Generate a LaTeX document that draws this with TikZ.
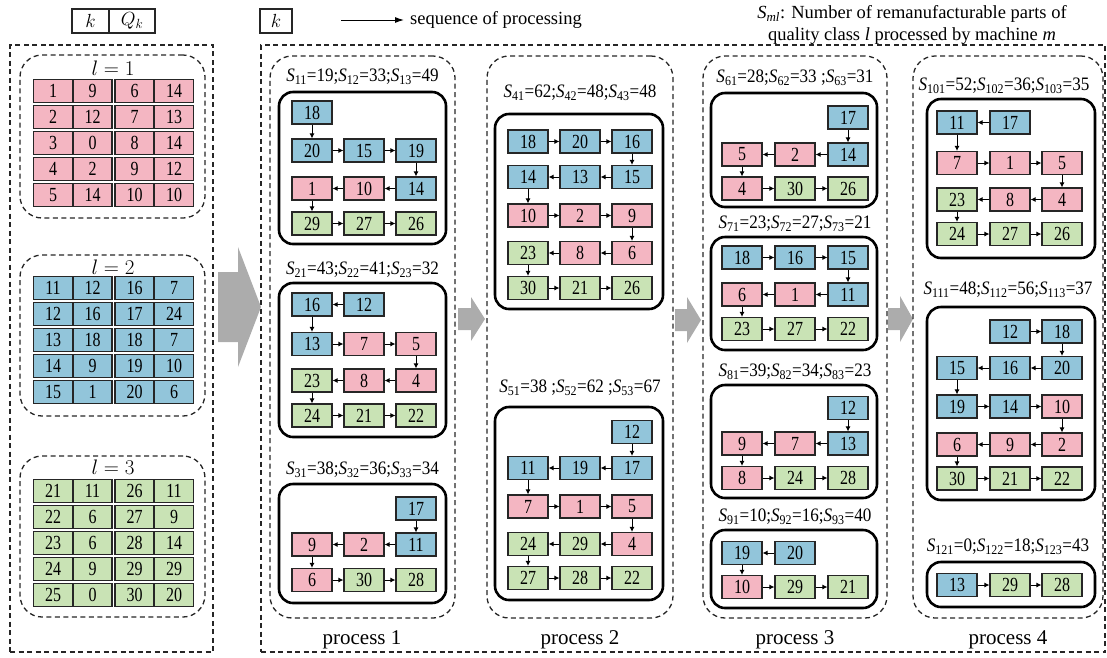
\RequirePackage{fix-cm}
\documentclass[tikz,border=0pt]{standalone}
\usepackage{fontspec}
\setmainfont{Liberation Serif}
\newfontfamily\numfont[FakeStretch=0.8]{Liberation Serif}
\newfontfamily\labfont[FakeStretch=0.9]{Liberation Serif}
\usepackage{xcolor}
\usepackage{tikz}
\usetikzlibrary{arrows.meta, fit}

\definecolor{pinkc}{HTML}{F4B6C2}
\definecolor{bluec}{HTML}{92C5DA}
\definecolor{greenc}{HTML}{C9E3B5}

\begin{document}
\begin{tikzpicture}[
    x=1pt, y=-1pt,
    partnode/.style={rectangle, draw=black!85, line width=1.1pt, minimum width=40pt, minimum height=23pt, inner sep=0pt, font=\numfont\fontsize{20}{20}\selectfont},
    pnode/.style={partnode, fill=pinkc},
    bnode/.style={partnode, fill=bluec},
    gnode/.style={partnode, fill=greenc},
    cell/.style={minimum width=39pt, minimum height=22.5pt},
    keynode/.style={rectangle, draw=black!85, line width=1.1pt, minimum height=24pt, inner sep=0pt, font=\fontsize{19}{19}\selectfont},
    machine/.style={draw=black, line width=2.6pt, rounded corners=14pt, inner sep=0pt},
    group/.style={draw=black!85, dash pattern=on 5pt off 3.5pt, line width=1.3pt, rounded corners=22pt, inner sep=0pt},
    frame/.style={draw=black!85, dash pattern=on 5pt off 3.5pt, line width=1.3pt, inner sep=0pt},
    slabel/.style={inner sep=0pt, font=\labfont\fontsize{19}{19}\selectfont},
    plabel/.style={inner sep=0pt, font=\fontsize{21}{21}\selectfont},
    clabel/.style={inner sep=0pt, font=\fontsize{21}{21}\selectfont},
    arr/.style={-{Latex[length=5pt, width=5pt]}, line width=1pt, black},
    bigarr/.style={fill=gray!65}
]
\useasboundingbox (0,0) rectangle (1107,657);

% legend
\node[keynode, minimum width=37pt] (key_k) at (90.5,21) {$k$};
\node[keynode, minimum width=46pt] (key_q) at (132,21) {$Q_k$};
\node[keynode, minimum width=32pt] (key_m) at (276,21) {$k$};
\coordinate (seq_a) at (341,20);
\node[anchor=west, inner sep=0pt, font=\fontsize{18.5}{18.5}\selectfont] (seq_txt) at (410,20) {sequence of processing};
\draw[-{Latex[length=9pt, width=6pt]}, line width=1pt] (seq_a) -- ([xshift=-6pt]seq_txt.west);
\node[align=center, inner sep=0pt, font=\fontsize{18.5}{22}\selectfont] (legend_s) at (912,25) {{\itshape S}\textsubscript{\itshape ml}: Number of remanufacturable parts of\\quality class {\itshape l} processed by machine {\itshape m}};

% outer frames
\node[frame, fit={(10,45) (213,652)}] (input_box) {};
\node[frame, fit={(261,45) (1105,652)}] (sched_box) {};

% quality classes
\node[group, fit={(20,55) (205,218)}] (class1) {};
\node[group, fit={(20,255) (205,416)}] (class2) {};
\node[group, fit={(20,456) (205,617)}] (class3) {};
\node[clabel] (class1_lbl) at (113,68) {$l=1$};
\node[clabel] (class2_lbl) at (113,267) {$l=2$};
\node[clabel] (class3_lbl) at (113,467) {$l=3$};

\node[pnode, cell] (k_1) at (53,91) {1};
\node[pnode, cell] (q_1) at (92.5,91) {9};
\node[pnode, cell] (k_6) at (134.5,91) {6};
\node[pnode, cell] (q_6) at (174,91) {14};
\node[pnode, cell] (k_2) at (53,117) {2};
\node[pnode, cell] (q_2) at (92.5,117) {12};
\node[pnode, cell] (k_7) at (134.5,117) {7};
\node[pnode, cell] (q_7) at (174,117) {13};
\node[pnode, cell] (k_3) at (53,143) {3};
\node[pnode, cell] (q_3) at (92.5,143) {0};
\node[pnode, cell] (k_8) at (134.5,143) {8};
\node[pnode, cell] (q_8) at (174,143) {14};
\node[pnode, cell] (k_4) at (53,169) {4};
\node[pnode, cell] (q_4) at (92.5,169) {2};
\node[pnode, cell] (k_9) at (134.5,169) {9};
\node[pnode, cell] (q_9) at (174,169) {12};
\node[pnode, cell] (k_5) at (53,195) {5};
\node[pnode, cell] (q_5) at (92.5,195) {14};
\node[pnode, cell] (k_10) at (134.5,195) {10};
\node[pnode, cell] (q_10) at (174,195) {10};

\node[bnode, cell] (k_11) at (53,288) {11};
\node[bnode, cell] (q_11) at (92.5,288) {12};
\node[bnode, cell] (k_16) at (134.5,288) {16};
\node[bnode, cell] (q_16) at (174,288) {7};
\node[bnode, cell] (k_12) at (53,314) {12};
\node[bnode, cell] (q_12) at (92.5,314) {16};
\node[bnode, cell] (k_17) at (134.5,314) {17};
\node[bnode, cell] (q_17) at (174,314) {24};
\node[bnode, cell] (k_13) at (53,340) {13};
\node[bnode, cell] (q_13) at (92.5,340) {18};
\node[bnode, cell] (k_18) at (134.5,340) {18};
\node[bnode, cell] (q_18) at (174,340) {7};
\node[bnode, cell] (k_14) at (53,366) {14};
\node[bnode, cell] (q_14) at (92.5,366) {9};
\node[bnode, cell] (k_19) at (134.5,366) {19};
\node[bnode, cell] (q_19) at (174,366) {10};
\node[bnode, cell] (k_15) at (53,392) {15};
\node[bnode, cell] (q_15) at (92.5,392) {1};
\node[bnode, cell] (k_20) at (134.5,392) {20};
\node[bnode, cell] (q_20) at (174,392) {6};

\node[gnode, cell] (k_21) at (53,491) {21};
\node[gnode, cell] (q_21) at (92.5,491) {11};
\node[gnode, cell] (k_26) at (134.5,491) {26};
\node[gnode, cell] (q_26) at (174,491) {11};
\node[gnode, cell] (k_22) at (53,517) {22};
\node[gnode, cell] (q_22) at (92.5,517) {6};
\node[gnode, cell] (k_27) at (134.5,517) {27};
\node[gnode, cell] (q_27) at (174,517) {9};
\node[gnode, cell] (k_23) at (53,543) {23};
\node[gnode, cell] (q_23) at (92.5,543) {6};
\node[gnode, cell] (k_28) at (134.5,543) {28};
\node[gnode, cell] (q_28) at (174,543) {14};
\node[gnode, cell] (k_24) at (53,569) {24};
\node[gnode, cell] (q_24) at (92.5,569) {9};
\node[gnode, cell] (k_29) at (134.5,569) {29};
\node[gnode, cell] (q_29) at (174,569) {29};
\node[gnode, cell] (k_25) at (53,595) {25};
\node[gnode, cell] (q_25) at (92.5,595) {0};
\node[gnode, cell] (k_30) at (134.5,595) {30};
\node[gnode, cell] (q_30) at (174,595) {20};

% big arrows
\fill[bigarr] (218,272) -- (238,272) -- (238,247) -- (261,307) -- (238,367) -- (238,342) -- (218,342) -- cycle;
\fill[bigarr] (458,308) -- (471,308) -- (471,297) -- (485,319) -- (471,341) -- (471,330) -- (458,330) -- cycle;
\fill[bigarr] (675,309) -- (687,309) -- (687,297) -- (701,320) -- (687,343) -- (687,331) -- (675,331) -- cycle;
\fill[bigarr] (888,308) -- (900,308) -- (900,296) -- (913,319) -- (900,342) -- (900,330) -- (888,330) -- cycle;

% processes
\node[group, fit={(270,56) (455,618)}] (proc1) {};
\node[group, fit={(487,56) (673,618)}] (proc2) {};
\node[group, fit={(703,56) (887,618)}] (proc3) {};
\node[group, fit={(913,56) (1103,618)}] (proc4) {};
\node[plabel] (proc1_lbl) at (362,640) {process 1};
\node[plabel] (proc2_lbl) at (580,640) {process 2};
\node[plabel] (proc3_lbl) at (795,640) {process 3};
\node[plabel] (proc4_lbl) at (1008,640) {process 4};

% machines
\node[machine, fit={(279,92) (446,244)}] (mach1) {};
\node[machine, fit={(279,283) (446,437)}] (mach2) {};
\node[machine, fit={(279,484) (446,603)}] (mach3) {};
\node[machine, fit={(495,114) (663,309)}] (mach4) {};
\node[machine, fit={(495,407) (663,600)}] (mach5) {};
\node[machine, fit={(711,93) (877,207)}] (mach6) {};
\node[machine, fit={(711,237) (877,350)}] (mach7) {};
\node[machine, fit={(711,385) (877,498)}] (mach8) {};
\node[machine, fit={(711,530) (877,608)}] (mach9) {};
\node[machine, fit={(927,99) (1095,258)}] (mach10) {};
\node[machine, fit={(927,307) (1095,500)}] (mach11) {};
\node[machine, fit={(927,562) (1095,607)}] (mach12) {};

\node[slabel] (s_1) at (362.5,77) {{\itshape S}\textsubscript{11}=19;{\itshape S}\textsubscript{12}=33;{\itshape S}\textsubscript{13}=49};
\node[slabel] (s_2) at (362.5,270) {{\itshape S}\textsubscript{21}=43;{\itshape S}\textsubscript{22}=41;{\itshape S}\textsubscript{23}=32};
\node[slabel] (s_3) at (362.5,470) {{\itshape S}\textsubscript{31}=38;{\itshape S}\textsubscript{32}=36;{\itshape S}\textsubscript{33}=34};
\node[slabel] (s_4) at (580,93) {{\itshape S}\textsubscript{41}=62;{\itshape S}\textsubscript{42}=48;{\itshape S}\textsubscript{43}=48};
\node[slabel] (s_5) at (580,388) {{\itshape S}\textsubscript{51}=38 ;{\itshape S}\textsubscript{52}=62 ;{\itshape S}\textsubscript{53}=67};
\node[slabel] (s_6) at (795,78) {{\itshape S}\textsubscript{61}=28;{\itshape S}\textsubscript{62}=33 ;{\itshape S}\textsubscript{63}=31};
\node[slabel] (s_7) at (795,224) {{\itshape S}\textsubscript{71}=23;{\itshape S}\textsubscript{72}=27;{\itshape S}\textsubscript{73}=21};
\node[slabel] (s_8) at (795,372) {{\itshape S}\textsubscript{81}=39;{\itshape S}\textsubscript{82}=34;{\itshape S}\textsubscript{83}=23};
\node[slabel] (s_9) at (795,517) {{\itshape S}\textsubscript{91}=10;{\itshape S}\textsubscript{92}=16;{\itshape S}\textsubscript{93}=40};
\node[slabel] (s_10) at (1004,86) {{\itshape S}\textsubscript{101}=52;{\itshape S}\textsubscript{102}=36;{\itshape S}\textsubscript{103}=35};
\node[slabel] (s_11) at (1008,290) {{\itshape S}\textsubscript{111}=48;{\itshape S}\textsubscript{112}=56;{\itshape S}\textsubscript{113}=37};
\node[slabel] (s_12) at (1008,547) {{\itshape S}\textsubscript{121}=0;{\itshape S}\textsubscript{122}=18;{\itshape S}\textsubscript{123}=43};

% machine 1
\node[bnode] (m1_18) at (312,112.5) {18};
\node[bnode] (m1_20) at (312,150.5) {20};
\node[bnode] (m1_15) at (364,150.5) {15};
\node[bnode] (m1_19) at (416,150.5) {19};
\node[pnode] (m1_1) at (312,188.5) {1};
\node[pnode] (m1_10) at (364,188.5) {10};
\node[bnode] (m1_14) at (416,188.5) {14};
\node[gnode] (m1_29) at (312,223.5) {29};
\node[gnode] (m1_27) at (364,223.5) {27};
\node[gnode] (m1_26) at (416,223.5) {26};
\draw[arr] (m1_18) -- (m1_20);
\draw[arr] (m1_20) -- (m1_15);
\draw[arr] (m1_15) -- (m1_19);
\draw[arr] (m1_19) -- (m1_14);
\draw[arr] (m1_14) -- (m1_10);
\draw[arr] (m1_10) -- (m1_1);
\draw[arr] (m1_1) -- (m1_29);
\draw[arr] (m1_29) -- (m1_27);
\draw[arr] (m1_27) -- (m1_26);

% machine 2
\node[bnode] (m2_16) at (312,304.5) {16};
\node[bnode] (m2_12) at (364,304.5) {12};
\node[bnode] (m2_13) at (312,344) {13};
\node[pnode] (m2_7) at (364,344) {7};
\node[pnode] (m2_5) at (416,344) {5};
\node[gnode] (m2_23) at (312,380.5) {23};
\node[pnode] (m2_8) at (364,380.5) {8};
\node[pnode] (m2_4) at (416,380.5) {4};
\node[gnode] (m2_24) at (312,415.5) {24};
\node[gnode] (m2_21) at (364,415.5) {21};
\node[gnode] (m2_22) at (416,415.5) {22};
\draw[arr] (m2_12) -- (m2_16);
\draw[arr] (m2_16) -- (m2_13);
\draw[arr] (m2_13) -- (m2_7);
\draw[arr] (m2_7) -- (m2_5);
\draw[arr] (m2_5) -- (m2_4);
\draw[arr] (m2_4) -- (m2_8);
\draw[arr] (m2_8) -- (m2_23);
\draw[arr] (m2_23) -- (m2_24);
\draw[arr] (m2_24) -- (m2_21);
\draw[arr] (m2_21) -- (m2_22);

% machine 3
\node[bnode] (m3_17) at (416,508.5) {17};
\node[pnode] (m3_9) at (312,544.5) {9};
\node[pnode] (m3_2) at (364,544.5) {2};
\node[bnode] (m3_11) at (416,544.5) {11};
\node[pnode] (m3_6) at (312,580) {6};
\node[gnode] (m3_30) at (364,580) {30};
\node[gnode] (m3_28) at (416,580) {28};
\draw[arr] (m3_17) -- (m3_11);
\draw[arr] (m3_11) -- (m3_2);
\draw[arr] (m3_2) -- (m3_9);
\draw[arr] (m3_9) -- (m3_6);
\draw[arr] (m3_6) -- (m3_30);
\draw[arr] (m3_30) -- (m3_28);

% machine 4
\node[bnode] (m4_18) at (528,141.5) {18};
\node[bnode] (m4_20) at (580,141.5) {20};
\node[bnode] (m4_16) at (632,141.5) {16};
\node[bnode] (m4_14) at (528,177) {14};
\node[bnode] (m4_13) at (580,177) {13};
\node[bnode] (m4_15) at (632,177) {15};
\node[pnode] (m4_10) at (528,215.5) {10};
\node[pnode] (m4_2) at (580,215.5) {2};
\node[pnode] (m4_9) at (632,215.5) {9};
\node[gnode] (m4_23) at (528,253) {23};
\node[pnode] (m4_8) at (580,253) {8};
\node[pnode] (m4_6) at (632,253) {6};
\node[gnode] (m4_30) at (528,288) {30};
\node[gnode] (m4_21) at (580,288) {21};
\node[gnode] (m4_26) at (632,288) {26};
\draw[arr] (m4_18) -- (m4_20);
\draw[arr] (m4_20) -- (m4_16);
\draw[arr] (m4_16) -- (m4_15);
\draw[arr] (m4_15) -- (m4_13);
\draw[arr] (m4_13) -- (m4_14);
\draw[arr] (m4_14) -- (m4_10);
\draw[arr] (m4_10) -- (m4_2);
\draw[arr] (m4_2) -- (m4_9);
\draw[arr] (m4_9) -- (m4_6);
\draw[arr] (m4_6) -- (m4_8);
\draw[arr] (m4_8) -- (m4_23);
\draw[arr] (m4_23) -- (m4_30);
\draw[arr] (m4_30) -- (m4_21);
\draw[arr] (m4_21) -- (m4_26);

% machine 5
\node[bnode] (m5_12) at (632,432) {12};
\node[bnode] (m5_11) at (528,468) {11};
\node[bnode] (m5_19) at (580,468) {19};
\node[bnode] (m5_17) at (632,468) {17};
\node[pnode] (m5_7) at (528,506.5) {7};
\node[pnode] (m5_1) at (580,506.5) {1};
\node[pnode] (m5_5) at (632,506.5) {5};
\node[gnode] (m5_24) at (528,544) {24};
\node[gnode] (m5_29) at (580,544) {29};
\node[pnode] (m5_4) at (632,544) {4};
\node[gnode] (m5_27) at (528,578) {27};
\node[gnode] (m5_28) at (580,578) {28};
\node[gnode] (m5_22) at (632,578) {22};
\draw[arr] (m5_12) -- (m5_17);
\draw[arr] (m5_17) -- (m5_19);
\draw[arr] (m5_19) -- (m5_11);
\draw[arr] (m5_11) -- (m5_7);
\draw[arr] (m5_7) -- (m5_1);
\draw[arr] (m5_1) -- (m5_5);
\draw[arr] (m5_5) -- (m5_4);
\draw[arr] (m5_4) -- (m5_29);
\draw[arr] (m5_29) -- (m5_24);
\draw[arr] (m5_24) -- (m5_27);
\draw[arr] (m5_27) -- (m5_28);
\draw[arr] (m5_28) -- (m5_22);

% machine 6
\node[bnode] (m6_17) at (848,117.5) {17};
\node[pnode] (m6_5) at (742,154.5) {5};
\node[pnode] (m6_2) at (795,154.5) {2};
\node[bnode] (m6_14) at (848,154.5) {14};
\node[pnode] (m6_4) at (742,188.5) {4};
\node[gnode] (m6_30) at (795,188.5) {30};
\node[gnode] (m6_26) at (848,188.5) {26};
\draw[arr] (m6_17) -- (m6_14);
\draw[arr] (m6_14) -- (m6_2);
\draw[arr] (m6_2) -- (m6_5);
\draw[arr] (m6_5) -- (m6_4);
\draw[arr] (m6_4) -- (m6_30);
\draw[arr] (m6_30) -- (m6_26);

% machine 7
\node[bnode] (m7_18) at (742,257.5) {18};
\node[bnode] (m7_16) at (795,257.5) {16};
\node[bnode] (m7_15) at (848,257.5) {15};
\node[pnode] (m7_6) at (742,294.5) {6};
\node[pnode] (m7_1) at (795,294.5) {1};
\node[bnode] (m7_11) at (848,294.5) {11};
\node[gnode] (m7_23) at (742,329) {23};
\node[gnode] (m7_27) at (795,329) {27};
\node[gnode] (m7_22) at (848,329) {22};
\draw[arr] (m7_18) -- (m7_16);
\draw[arr] (m7_16) -- (m7_15);
\draw[arr] (m7_15) -- (m7_11);
\draw[arr] (m7_11) -- (m7_1);
\draw[arr] (m7_1) -- (m7_6);
\draw[arr] (m7_6) -- (m7_23);
\draw[arr] (m7_23) -- (m7_27);
\draw[arr] (m7_27) -- (m7_22);

% machine 8
\node[bnode] (m8_12) at (848,408) {12};
\node[pnode] (m8_9) at (742,443.5) {9};
\node[pnode] (m8_7) at (795,443.5) {7};
\node[bnode] (m8_13) at (848,443.5) {13};
\node[pnode] (m8_8) at (742,478) {8};
\node[gnode] (m8_24) at (795,478) {24};
\node[gnode] (m8_28) at (848,478) {28};
\draw[arr] (m8_12) -- (m8_13);
\draw[arr] (m8_13) -- (m8_7);
\draw[arr] (m8_7) -- (m8_9);
\draw[arr] (m8_9) -- (m8_8);
\draw[arr] (m8_8) -- (m8_24);
\draw[arr] (m8_24) -- (m8_28);

% machine 9
\node[bnode] (m9_19) at (742,553) {19};
\node[bnode] (m9_20) at (795,553) {20};
\node[pnode] (m9_10) at (742,587) {10};
\node[gnode] (m9_29) at (795,587) {29};
\node[gnode] (m9_21) at (848,587) {21};
\draw[arr] (m9_20) -- (m9_19);
\draw[arr] (m9_19) -- (m9_10);
\draw[arr] (m9_10) -- (m9_29);
\draw[arr] (m9_29) -- (m9_21);

% machine 10
\node[bnode] (m10_11) at (957,122.5) {11};
\node[bnode] (m10_17) at (1010,122.5) {17};
\node[pnode] (m10_7) at (957,163) {7};
\node[pnode] (m10_1) at (1010,163) {1};
\node[pnode] (m10_5) at (1062,163) {5};
\node[gnode] (m10_23) at (957,199.5) {23};
\node[pnode] (m10_8) at (1010,199.5) {8};
\node[pnode] (m10_4) at (1062,199.5) {4};
\node[gnode] (m10_24) at (957,234) {24};
\node[gnode] (m10_27) at (1010,234) {27};
\node[gnode] (m10_26) at (1062,234) {26};
\draw[arr] (m10_17) -- (m10_11);
\draw[arr] (m10_11) -- (m10_7);
\draw[arr] (m10_7) -- (m10_1);
\draw[arr] (m10_1) -- (m10_5);
\draw[arr] (m10_5) -- (m10_4);
\draw[arr] (m10_4) -- (m10_8);
\draw[arr] (m10_8) -- (m10_23);
\draw[arr] (m10_23) -- (m10_24);
\draw[arr] (m10_24) -- (m10_27);
\draw[arr] (m10_27) -- (m10_26);

% machine 11
\node[bnode] (m11_12) at (1010,331.5) {12};
\node[bnode] (m11_18) at (1062,331.5) {18};
\node[bnode] (m11_15) at (957,368) {15};
\node[bnode] (m11_16) at (1010,368) {16};
\node[bnode] (m11_20) at (1062,368) {20};
\node[bnode] (m11_19) at (957,406.5) {19};
\node[bnode] (m11_14) at (1010,406.5) {14};
\node[pnode] (m11_10) at (1062,406.5) {10};
\node[pnode] (m11_6) at (957,444.5) {6};
\node[pnode] (m11_9) at (1010,444.5) {9};
\node[pnode] (m11_2) at (1062,444.5) {2};
\node[gnode] (m11_30) at (957,478.5) {30};
\node[gnode] (m11_21) at (1010,478.5) {21};
\node[gnode] (m11_22) at (1062,478.5) {22};
\draw[arr] (m11_12) -- (m11_18);
\draw[arr] (m11_18) -- (m11_20);
\draw[arr] (m11_20) -- (m11_16);
\draw[arr] (m11_16) -- (m11_15);
\draw[arr] (m11_15) -- (m11_19);
\draw[arr] (m11_19) -- (m11_14);
\draw[arr] (m11_14) -- (m11_10);
\draw[arr] (m11_10) -- (m11_2);
\draw[arr] (m11_2) -- (m11_9);
\draw[arr] (m11_9) -- (m11_6);
\draw[arr] (m11_6) -- (m11_30);
\draw[arr] (m11_30) -- (m11_21);
\draw[arr] (m11_21) -- (m11_22);

% machine 12
\node[bnode] (m12_13) at (957,585) {13};
\node[gnode] (m12_29) at (1010,585) {29};
\node[gnode] (m12_28) at (1062,585) {28};
\draw[arr] (m12_13) -- (m12_29);
\draw[arr] (m12_29) -- (m12_28);

\end{tikzpicture}
\end{document}
